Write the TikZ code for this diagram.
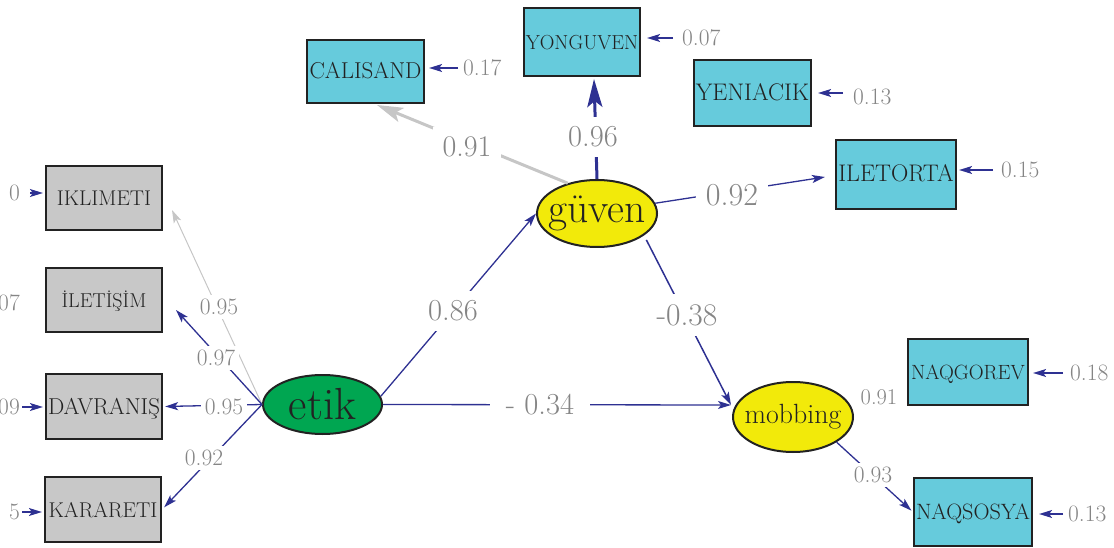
\documentclass[tikz,border=0pt]{standalone}
\usepackage{fontspec}
\usetikzlibrary{shapes.geometric,arrows.meta}
\definecolor{navy}{HTML}{2E3192}
\definecolor{cyanfill}{HTML}{66CBDC}
\definecolor{grayfill}{HTML}{C8C8C8}
\definecolor{greenfill}{HTML}{00A651}
\definecolor{yellowfill}{HTML}{F2EA0A}
\definecolor{boxline}{HTML}{222222}
\definecolor{labgray}{HTML}{858585}
\definecolor{lightline}{HTML}{C6C6C6}
\begin{document}
\begin{tikzpicture}[x=1pt,y=-1pt,
  box/.style={draw=boxline, line width=2.2pt, inner sep=0pt, text=boxline,
    text height=15pt, text depth=0pt},
  fs/.style={font=\fontsize{#1}{#1}\selectfont},
  cbox/.style={box, fill=cyanfill},
  gbox/.style={box, fill=grayfill},
  lat/.style={ellipse, draw=boxline, line width=2pt, inner sep=0pt},
  arr/.style={draw=navy, line width=1.3pt, -{Stealth[length=13pt,width=8pt,inset=3pt]}},
  lbl/.style={text=labgray, fill=white, inner sep=4pt, font=\fontsize{23.5}{26}\selectfont},
  elbl/.style={text=labgray, inner sep=1pt, font=\fontsize{23.5}{26}\selectfont},
  biglbl/.style={text=labgray, fill=white, inner sep=10pt, font=\fontsize{30.5}{32}\selectfont}]
\useasboundingbox (0,0) rectangle (1114,548);
\clip (0,0) rectangle (1114,548);

% observed variables (left)
\node[gbox, fs=21.3, minimum width=116pt, minimum height=64pt] (ikl) at (104,198) {IKLIMETI};
\node[gbox, fs=20.1, minimum width=116pt, minimum height=64pt] (ilt) at (104,300) {İLETİŞİM};
\node[gbox, fs=23, minimum width=116pt, minimum height=65pt] (dav) at (104,406.5) {DAVRANIŞ};
\node[gbox, fs=21.4, minimum width=116pt, minimum height=65pt] (kar) at (103,509.5) {KARARETI};
% observed variables (right)
\node[cbox, fs=23, minimum width=117pt, minimum height=63pt] (cal) at (365.5,71.5) {CALISAND};
\node[cbox, fs=20.3, minimum width=116pt, minimum height=68pt] (yon) at (582,42) {YONGUVEN};
\node[cbox, fs=24, minimum width=117pt, minimum height=66pt] (yen) at (752.5,93) {YENIACIK};
\node[cbox, fs=24, minimum width=120pt, minimum height=69pt] (ilet) at (896,174.5) {ILETORTA};
\node[cbox, fs=20.6, minimum width=120pt, minimum height=66pt] (naqg) at (968,372) {NAQGOREV};
\node[cbox, fs=22.2, minimum width=118pt, minimum height=68pt] (naqs) at (973,512) {NAQSOSYA};

% latent variables
\node[lat, fill=greenfill, minimum width=119pt, minimum height=59pt,
  label={[font=\fontsize{45}{46}\selectfont, text=boxline]center:etik}] (etik) at (322.5,404.5) {};
\node[lat, fill=yellowfill, minimum width=120pt, minimum height=67pt,
  label={[font=\fontsize{41.5}{44}\selectfont, text=boxline]center:güven}] (guv) at (597,213.5) {};
\node[lat, fill=yellowfill, minimum width=120pt, minimum height=70pt,
  label={[font=\fontsize{27.8}{30}\selectfont, text=boxline]center:mobbing}] (mob) at (793,417) {};

% arrow tip coordinates
\coordinate (tIKL) at (172,210);
\coordinate (tILT) at (176,310);
\coordinate (tCAL) at (377,105);
\coordinate (tYON) at (594,79);
\coordinate (tILET) at (825,177);
\coordinate (mobin) at (731,405);

% etik loadings
\draw[draw=lightline, line width=1pt, -{Stealth[length=13pt,width=8pt,inset=3pt]}] (etik.west) -- (tIKL);
\draw[arr] (etik.west) -- (tILT);
\draw[arr, shorten >=2pt] (etik.west) -- (dav.east);
\draw[arr, shorten >=3pt] (etik.west) -- (kar.east);
% structural paths
\draw[arr] (etik.8) -- (guv.west);
\draw[arr] (etik.east) -- (mobin);
\draw[arr, line width=1.5pt, shorten <=5pt] (guv.-25) -- (mobin);
% guven loadings
\draw[draw=lightline, line width=3pt, -{Stealth[length=26pt,width=15pt,inset=6pt]}] (guv.134) -- (tCAL);
\draw[draw=navy, line width=3pt, -{Stealth[length=28pt,width=15pt,inset=6pt]}] (guv.north) -- (tYON);
\draw[arr] (guv.10) -- (tILET);
% mobbing loadings
\draw[arr, shorten >=2pt] (mob.-30) -- (naqs.west);

% path labels
\node[lbl] (l1) at (219,307) {0.95};
\node[lbl] (l2) at (216,358) {0.97};
\node[lbl] (l3) at (224,407) {0.95};
\node[lbl] (l4) at (204,458) {0.92};
\node[biglbl] (l5) at (453,311) {0.86};
\node[biglbl, font=\fontsize{30}{32}\selectfont] (l6) at (467,147) {0.91};
\node[biglbl] (l7) at (593,137) {0.96};
\node[biglbl, font=\fontsize{32}{34}\selectfont] (l8) at (732,195) {0.92};
\node[biglbl, font=\fontsize{31.5}{34}\selectfont] (l9) at (687,315) {-0.38};
\node[biglbl, inner xsep=16pt] (l10) at (540,405) {- 0.34};
\node[lbl, font=\fontsize{22.5}{26}\selectfont] (l11) at (879,397) {0.91};
\node[lbl] (l12) at (873,475) {0.93};

% error variances (right)
\node[elbl, anchor=west] (ecal) at (462,68) {0.17};
\node[elbl, anchor=west] (eyon) at (681,38) {0.07};
\node[elbl, anchor=west] (eyen) at (852,97) {0.13};
\node[elbl, anchor=west] (eilet) at (1000,170) {0.15};
\node[elbl, anchor=west] (enaqg) at (1069,373) {0.18};
\node[elbl, anchor=west] (enaqs) at (1067,514) {0.13};
\draw[arr, shorten <=4pt, shorten >=4pt] (ecal.west) -- (ecal.west -| cal.east);
\draw[arr, shorten <=8pt, shorten >=6pt] (eyon.west) -- (eyon.west -| yon.east);
\draw[arr, shorten <=9pt, shorten >=6pt] (eyen.west |- yen.east) -- (yen.east);
\draw[arr, shorten <=7pt, shorten >=2pt] (eilet.west) -- (eilet.west -| ilet.east);
\draw[arr, shorten <=6pt, shorten >=4pt] (enaqg.west) -- (enaqg.west -| naqg.east);
\draw[arr, shorten <=4pt, shorten >=6pt] (enaqs.west) -- (enaqs.west -| naqs.east);

% error variances (left, partly outside the frame as in the reference)
\node[elbl, anchor=east] (eikl) at (21,193) {0};
\node[elbl, anchor=east] (eilt) at (21,303) {0.07};
\node[elbl, anchor=east] (edav) at (21,407) {0.09};
\node[elbl, anchor=east] (ekar) at (21,512) {5};
\draw[arr, shorten <=9pt, shorten >=2pt] (eikl.east) -- (eikl.east -| ikl.west);
\draw[arr, shorten <=1pt, shorten >=2pt] (edav.east) -- (edav.east -| dav.west);
\draw[arr, shorten <=1pt, shorten >=2pt] (ekar.east) -- (ekar.east -| kar.west);
\end{tikzpicture}
\end{document}
